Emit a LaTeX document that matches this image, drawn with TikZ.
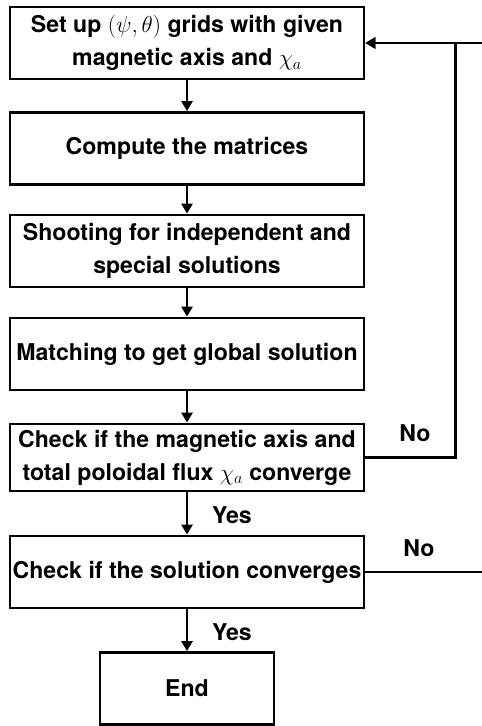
\documentclass[tikz,border=0pt]{standalone}
\usepackage{fix-cm}
\usepackage{fontspec}
\setmainfont{TeX Gyre Heros}
\usetikzlibrary{arrows.meta}
\newcommand{\flowfont}{\fontsize{23.1}{33}\selectfont\bfseries}
\tikzset{
  procbox/.style = {draw,line width=2.8pt,minimum width=354pt,minimum height=72pt,
                    inner sep=0pt,align=center,font=\flowfont},
  flowarr/.style = {-{Triangle[length=10pt,width=11pt]},line width=2.5pt},
  answer/.style  = {font=\flowfont}
}

\begin{document}
\begin{tikzpicture}[x=1pt,y=-1pt]
  \path[use as bounding box,clip] (0,0) rectangle (482,726);
  \node[procbox] (setup) at (187,43)
        {Set up $(\psi,\theta)$ grids with given\\magnetic axis and $\chi_a$};
  \node[procbox] (matrices) at (187,148.5) {Compute the matrices};
  \node[procbox] (shoot) at (187,251)
        {Shooting for independent and\\special solutions};
  \node[procbox] (match) at (187,354) {Matching to get global solution};
  \node[procbox,minimum height=67pt] (axischeck) at (187,457.5)
        {Check if the magnetic axis and\\total poloidal flux $\chi_a$ converge};
  \node[procbox] (solcheck) at (187,572) {Check if the solution converges};
  \node[procbox,minimum width=174pt] (finish) at (187,688.5) {End};
  \draw[flowarr] (setup) -- (matrices);
  \draw[flowarr] (matrices) -- (shoot);
  \draw[flowarr] (shoot) -- (match);
  \draw[flowarr] (match) -- (axischeck);
  \draw[flowarr] (axischeck) -- (solcheck);
  \draw[flowarr] (solcheck) -- (finish);
  % loops back to the grid set-up
  \draw[flowarr] (axischeck.east) -- ++(90,0) |- (setup.east);
  \draw[flowarr] (solcheck.east) -- ++(140,0) |- (setup.east);
  \node[answer] (no1)  at (415,433) {No};
  \node[answer] (no2)  at (419,548) {No};
  \node[answer] (yes1) at (232,515) {Yes};
  \node[answer] (yes2) at (232,632) {Yes};
\end{tikzpicture}
\end{document}
